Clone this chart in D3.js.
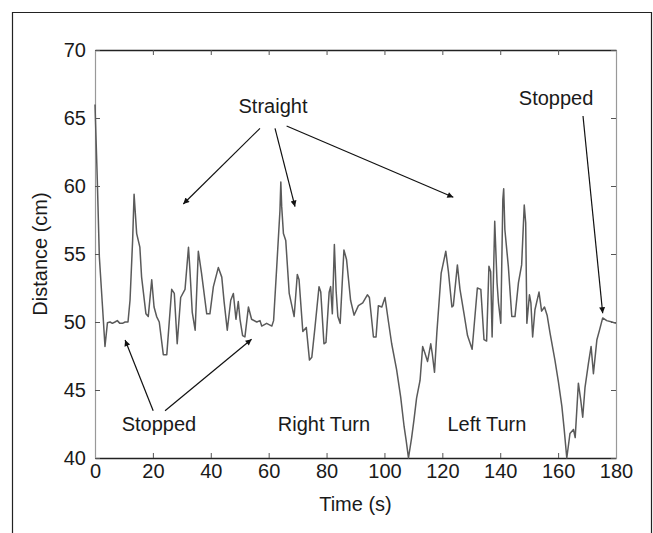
<!DOCTYPE html>
<html>
<head>
<meta charset="utf-8">
<script src="https://cdn.jsdelivr.net/npm/d3@7"></script>
<style>
  body { margin: 0; background: #fff; }
  svg { display: block; font-family: "Liberation Sans", Arial, Helvetica, sans-serif; }
  .tick text { font-size: 20px; fill: #1a1a1a; }
  .annot { font-size: 20px; fill: #1a1a1a; }
</style>
</head>
<body>
<div class="chart"></div>
<script>
var svgWidth = 653;
var svgHeight = 533;
var margin = { top: 50, right: 37, bottom: 75, left: 95 };
var width = 616 - margin.left;
var height = 458 - margin.top;

// time (s) and distance (cm)
var timeS = [0, 0.8, 1.5, 2.6, 3.45, 4.3, 5.2, 6.0, 6.9, 7.7, 8.6, 9.5, 10.4, 11.4,
  12.1, 13.0, 13.5, 14.4, 15.5, 16.1, 17.6, 18.4, 19.6, 20.4, 21.3, 22.2, 23.6, 24.8,
  26.5, 27.4, 28.4, 29.6, 31.1, 32.3, 32.8, 33.6, 34.6, 35.7, 36.8, 38.6, 39.7, 40.9,
  42.6, 43.8, 44.6, 45.7, 46.9, 47.8, 48.7, 49.5, 50.1, 51.0, 51.8, 53.0, 54.1, 55.9,
  57.0, 57.6, 59.3, 61.1, 61.7, 62.8, 63.9, 64.2, 64.5, 65.1, 65.9, 67.1, 68.8, 69.9,
  70.5, 71.8, 73.0, 74.1, 74.9, 76.0, 77.4, 78.0, 79.1, 79.8, 80.9, 81.4, 82.0, 82.7,
  83.3, 83.9, 84.7, 86.0, 86.9, 88.3, 89.5, 91.0, 92.5, 94.1, 94.8, 96.2, 97.1, 97.9,
  99.1, 100.2, 101.4, 102.5, 104.2, 105.6, 106.8, 107.5, 108.3, 109.4, 110.2, 111.1,
  112.3, 113.2, 114.0, 114.9, 116.0, 116.5, 117.3, 118.1, 119.6, 121.2, 122.1, 123.3,
  123.8, 125.2, 126.1, 127.5, 128.7, 130.3, 132.1, 133.3, 134.4, 135.3, 136.1, 136.7,
  137.2, 138.1, 138.9, 139.4, 140.2, 140.9, 141.2, 141.6, 142.8, 144.0, 145.1, 146.3,
  147.4, 148.3, 148.8, 149.2, 150.1, 150.6, 151.2, 152.0, 153.4, 154.3, 155.3, 156.2,
  157.2, 158.9, 160.1, 161.3, 162.1, 163.0, 164.1, 165.3, 165.9, 167.0, 167.8, 168.5,
  169.3, 170.5, 171.4, 172.2, 173.4, 174.3, 175.4, 176.8, 178.6, 180.0];

var distanceCm = [66.0, 60.4, 54.8, 51.1, 48.2, 49.95, 50.0, 49.9, 50.0, 50.1, 49.9, 49.9, 50.0, 50.0,
  51.6, 56.0, 59.4, 56.5, 55.5, 53.3, 50.6, 50.4, 53.1, 51.1, 50.4, 50.0, 47.6, 47.6,
  52.4, 52.1, 48.4, 51.8, 52.4, 55.5, 53.8, 50.7, 49.4, 55.2, 53.6, 50.6, 50.6, 52.6,
  54.0, 53.3, 51.5, 49.4, 51.6, 52.1, 50.2, 51.5, 50.2, 49.0, 48.9, 51.1, 50.2, 50.0,
  50.1, 49.7, 49.9, 49.7, 50.1, 54.1, 58.2, 60.3, 58.5, 56.5, 56.0, 52.1, 50.4, 53.5,
  53.1, 49.3, 49.6, 47.2, 47.4, 49.6, 52.6, 52.2, 48.4, 48.5, 52.2, 52.6, 50.6, 55.7,
  52.3, 50.4, 49.9, 55.3, 54.6, 51.6, 50.5, 51.2, 51.4, 52.0, 51.8, 48.9, 48.9, 51.2,
  51.1, 51.8, 50.0, 48.4, 46.5, 44.5, 42.3, 41.3, 40.0, 41.5, 42.8, 44.4,
  45.7, 48.2, 47.7, 47.1, 48.4, 47.7, 46.3, 49.2, 53.6, 55.2, 53.7, 51.1,
  51.2, 54.2, 52.4, 50.6, 49.0, 48.0, 52.5, 52.4, 48.7, 48.6, 54.1, 53.7,
  48.9, 57.4, 52.9, 51.4, 49.9, 59.0, 59.8, 56.8, 54.1, 50.4, 50.4, 52.9,
  54.2, 58.6, 57.3, 49.9, 52.0, 51.4, 48.9, 50.9, 52.2, 50.8, 51.1, 50.5,
  49.2, 47.2, 45.6, 43.8, 42.1, 40.0, 41.8, 42.1, 41.5, 45.5, 44.3, 43.0,
  45.2, 47.0, 48.2, 46.2, 48.7, 49.4, 50.3, 50.1, 50.0, 49.9];

var xTicks = [0, 20, 40, 60, 80, 100, 120, 140, 160, 180];
var yTicks = [40, 45, 50, 55, 60, 65, 70];

// annotation labels (centre time, baseline distance) and arrows in data units
var labels = ["Straight", "Stopped", "Stopped", "Right Turn", "Left Turn"];
var labelAt = [[61.5, 65.4], [22.1, 42.0], [159.3, 65.95], [79.1, 42.0], [135.4, 42.0]];
var arrowFrom = [[57.0, 64.24], [62.2, 64.24], [66.2, 64.41], [20.1, 43.48], [24.2, 43.48], [168.6, 65.15]];
var arrowTo = [[30.5, 58.68], [69.1, 58.48], [123.8, 59.17], [10.4, 48.68], [54.1, 48.73], [175.4, 50.64]];

var svg = d3.select(".chart")
  .append("svg")
  .attr("width", svgWidth)
  .attr("height", svgHeight);

// outer frame (bottom is cut off in the original)
svg.append("path")
  .attr("d", "M12.5,533 V12.5 H651.5 V533")
  .attr("fill", "none")
  .attr("stroke", "#222")
  .attr("stroke-width", 1.2);

var chart = svg.append("g")
  .attr("transform", `translate(${margin.left}, ${margin.top})`);

var xScale = d3.scaleLinear().domain([0, 180]).range([0, width]);
var yScale = d3.scaleLinear().domain([40, 70]).range([height, 0]);

var bottomAxis = d3.axisBottom(xScale).tickValues(xTicks).tickSizeInner(-5).tickSizeOuter(0).tickPadding(6);
var topAxis = d3.axisTop(xScale).tickValues(xTicks).tickSizeInner(-5).tickSizeOuter(0).tickFormat("");
var leftAxis = d3.axisLeft(yScale).tickValues(yTicks).tickSizeInner(-5).tickSizeOuter(0).tickPadding(9);
var rightAxis = d3.axisRight(yScale).tickValues(yTicks).tickSizeInner(-5).tickSizeOuter(0).tickFormat("");

chart.append("g").attr("class", "x-axis").attr("transform", `translate(0, ${height})`).call(bottomAxis);
chart.append("g").attr("class", "x-top").call(topAxis);
chart.append("g").attr("class", "y-axis").call(leftAxis);
chart.append("g").attr("class", "y-right").attr("transform", `translate(${width}, 0)`).call(rightAxis);

chart.selectAll(".x-axis .domain, .x-top .domain").attr("stroke", "#222").attr("stroke-width", 1.3);
chart.selectAll(".y-axis .domain, .y-right .domain").attr("stroke", "#999").attr("stroke-width", 1.2);
chart.selectAll(".tick line").attr("stroke", "#555").attr("stroke-width", 1);
chart.selectAll(".tick text").attr("font-family", null).attr("font-size", null);

// the trace
var line = d3.line()
  .x(function(d, i) { return xScale(timeS[i]); })
  .y(function(d) { return yScale(d); });

chart.append("path")
  .datum(distanceCm)
  .attr("d", line)
  .attr("fill", "none")
  .attr("stroke", "#5a5a5a")
  .attr("stroke-width", 1.5)
  .attr("stroke-linejoin", "round");

// arrows
svg.append("defs").append("marker")
  .attr("id", "head")
  .attr("viewBox", "0 0 10 10")
  .attr("refX", 10)
  .attr("refY", 5)
  .attr("markerWidth", 9)
  .attr("markerHeight", 6)
  .attr("markerUnits", "userSpaceOnUse")
  .attr("orient", "auto")
  .append("path")
  .attr("d", "M0,0 L10,5 L0,10 Z")
  .attr("fill", "#111");

chart.selectAll("line.arrow")
  .data(arrowFrom)
  .enter()
  .append("line")
  .attr("class", "arrow")
  .attr("x1", function(d) { return xScale(d[0]); })
  .attr("y1", function(d) { return yScale(d[1]); })
  .attr("x2", function(d, i) { return xScale(arrowTo[i][0]); })
  .attr("y2", function(d, i) { return yScale(arrowTo[i][1]); })
  .attr("stroke", "#111")
  .attr("stroke-width", 1.2)
  .attr("marker-end", "url(#head)");

chart.selectAll("text.annot")
  .data(labels)
  .enter()
  .append("text")
  .attr("class", "annot")
  .attr("text-anchor", "middle")
  .attr("x", function(d, i) { return xScale(labelAt[i][0]); })
  .attr("y", function(d, i) { return yScale(labelAt[i][1]); })
  .text(function(d) { return d; });

// axis titles
svg.append("text")
  .attr("class", "annot")
  .attr("text-anchor", "middle")
  .attr("x", margin.left + width / 2)
  .attr("y", 511)
  .text("Time (s)");

svg.append("text")
  .attr("class", "annot")
  .attr("text-anchor", "middle")
  .attr("transform", `translate(47, ${margin.top + height / 2}) rotate(-90)`)
  .text("Distance (cm)");
</script>
</body>
</html>
